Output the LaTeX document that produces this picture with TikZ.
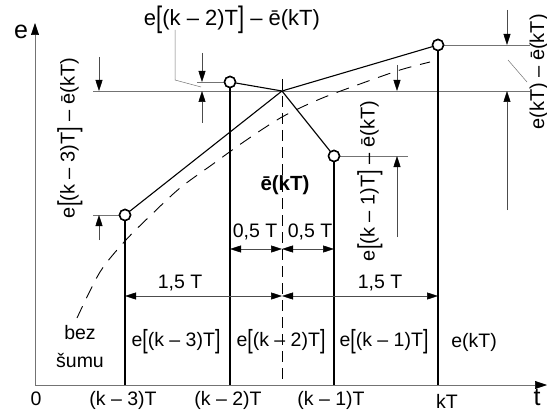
\documentclass[tikz,border=0pt]{standalone}
\usepackage{graphicx}
\usepackage{fontspec}
\setmainfont{Liberation Sans}
\usetikzlibrary{arrows.meta}
\newcommand{\LB}{\raisebox{-0.12em}{\scalebox{1}[1.35]{[}}}
\newcommand{\RB}{\raisebox{-0.12em}{\scalebox{1}[1.35]{]}}}
\begin{document}
\begin{tikzpicture}[x=1pt,y=-1pt,
  lbl/.style={font=\fontsize{19.5}{21}\selectfont, inner sep=0pt},
  rlbl/.style={font=\fontsize{20}{22}\selectfont, inner sep=0pt, rotate=90},
  big/.style={font=\fontsize{25}{28}\selectfont, inner sep=0pt},
  pt/.style={circle,draw,line width=1.5pt,fill=white,minimum size=11pt,inner sep=0pt},
  stem/.style={line width=2.3pt},
  conn/.style={line width=1.1pt},
  thinl/.style={line width=0.5pt, black!55},
  dimarr/.style={line width=0.5pt, black!70, -{Triangle[length=11pt,width=7pt,color=black]}},
  dimboth/.style={line width=0.5pt, black!70, {Triangle[length=11pt,width=7pt,color=black]}-{Triangle[length=11pt,width=7pt,color=black]}},
  axarr/.style={line width=0.6pt, black!55, -{Triangle[length=12pt,width=8pt,color=black]}},
]
\useasboundingbox (0,0) rectangle (547,412);

% axes
\coordinate (O) at (35,385);
\coordinate (ytop) at (35,23);
\coordinate (xend) at (547,385);
\draw[axarr] (O) -- (ytop);
\draw[axarr] (O) -- (xend);

% key points
\coordinate (m) at (282,91);
\coordinate (b3) at (125,385);
\coordinate (b2) at (230,385);
\coordinate (b1) at (334,385);
\coordinate (b0) at (438,385);

% thin reference lines
\draw[thinl] (93,91) -- (530,91);
\draw[thinl] (93,215) -- (120,215);
\draw[thinl] (197,82) -- (225,82);
\draw[thinl] (340,156) -- (408,156);
\draw[thinl] (444,45) -- (530,45);

% noise-free curve
\draw[line width=0.9pt, dash pattern=on 13pt off 9pt] plot[smooth] coordinates
  {(77,318) (100,272) (125,241) (150,216) (180,188) (213,164) (245,141) (282,117) (320,99) (360,84) (400,70) (430,62)};

% dashed vertical through the mean
\draw[line width=0.9pt, dash pattern=on 11pt off 6pt] (282,79) -- (282,385);

% stems
\node[pt] (p3) at (125,215) {};
\node[pt] (p2) at (230,82) {};
\node[pt] (p1) at (334,156) {};
\node[pt] (p0) at (438,45) {};
\draw[stem] (b3) -- (p3.south);
\draw[stem] (b2) -- (p2.south);
\draw[stem] (b1) -- (p1.south);
\draw[stem] (b0) -- (p0.south);
\draw[conn] (p3) -- (m);
\draw[conn] (p2) -- (m);
\draw[conn] (p1) -- (m);
\draw[conn] (p0) -- (m);
\node[pt] at (p3) {};
\node[pt] at (p2) {};
\node[pt] at (p1) {};
\node[pt] at (p0) {};

% vertical dimensions
\draw[dimarr] (99,57) -- (99,91);
\draw[dimarr] (99,240) -- (99,215);
\draw[dimarr] (202,53) -- (202,82);
\draw[dimarr] (202,123) -- (202,91);
\draw[dimarr] (397,65) -- (397,91);
\draw[dimarr] (397,237) -- (397,156);
\draw[dimarr] (507,10) -- (507,45);
\draw[dimarr] (507,210) -- (507,91);

% horizontal dimensions
\draw[dimboth] (230,249) -- (282,249);
\draw[dimboth] (282,249) -- (334,249);
\draw[dimboth] (125,296) -- (282,296);
\draw[dimboth] (282,296) -- (438,296);

% leaders
\draw[thinl] (175,30) -- (175,80) -- (201,87);
\draw[thinl] (527,82) -- (508,60);

% labels
\node[big] (le) at (21,32) {e};
\node[big] (lt) at (537,398) {t};
\node[lbl] (l0) at (36,399) {0};
\node[lbl] (x3) at (123,400) {(k – 3)T};
\node[lbl] (x2) at (228,400) {(k – 2)T};
\node[lbl] (x1) at (331,400) {(k – 1)T};
\node[lbl] (x0) at (447,401) {kT};
\node[lbl] (e3) at (176,342) {e\LB(k – 3)T\RB};
\node[lbl] (e2) at (281,342) {e\LB(k – 2)T\RB};
\node[lbl] (e1) at (384,342) {e\LB(k – 1)T\RB};
\node[lbl] (e0) at (474,342) {e(kT)};
\node[lbl] (bez) at (80,333) {bez};
\node[lbl] (sumu) at (80,360) {šumu};
\node[lbl] (h1) at (180,283) {1,5 T};
\node[lbl] (h2) at (380,283) {1,5 T};
\node[lbl] (q1) at (255,232) {0,5 T};
\node[lbl] (q2) at (310,232) {0,5 T};
\node[lbl, font=\fontsize{20.5}{22}\selectfont\bfseries] (mean) at (285,185) {ē(kT)};
\node[lbl, font=\fontsize{22}{24}\selectfont] (top) at (232,20) {e\LB(k – 2)T\RB{} – ē(kT)};
\node[rlbl] (r3) at (70,138) {e\LB(k – 3)T\RB{} – ē(kT)};
\node[rlbl] (r1) at (370,181) {e\LB(k – 1)T\RB{} – ē(kT)};
\node[rlbl] (r0) at (539,72) {e(kT) – ē(kT)};
\end{tikzpicture}
\end{document}
